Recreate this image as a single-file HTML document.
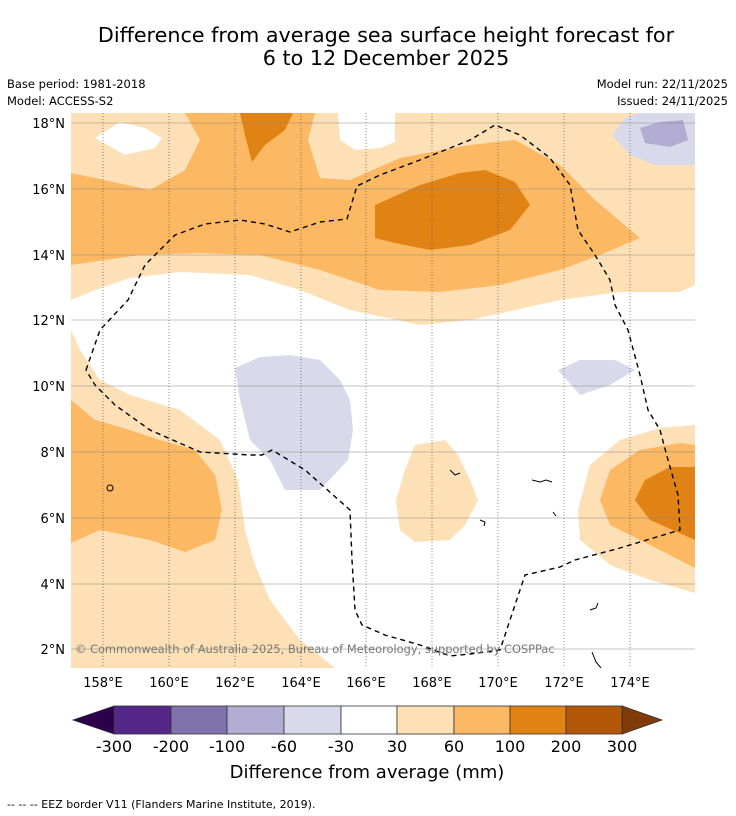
<!DOCTYPE html>
<html><head><meta charset="utf-8"><style>
body{margin:0;background:#fff;width:736px;height:816px;overflow:hidden;font-family:"DejaVu Sans","Liberation Sans",sans-serif}
svg{position:absolute;left:0;top:0}
</style></head><body>
<svg width="736" height="816" viewBox="0 0 736 816">
<text x="386" y="42" font-size="20.7" text-anchor="middle">Difference from average sea surface height forecast for</text>
<text x="386" y="65" font-size="20.7" text-anchor="middle">6 to 12 December 2025</text>
<text x="7" y="88" font-size="11.5">Base period: 1981-2018</text>
<text x="7" y="105" font-size="11.5">Model: ACCESS-S2</text>
<text x="728" y="88" font-size="11.5" text-anchor="end">Model run: 22/11/2025</text>
<text x="728" y="105" font-size="11.5" text-anchor="end">Issued: 24/11/2025</text>
<defs><clipPath id="mc"><rect x="71" y="113" width="624" height="555"/></clipPath></defs>
<g clip-path="url(#mc)">
<rect x="71" y="113" width="624" height="555" fill="#fee0b6"/>
<polygon fill="#fff" points="71,300 95,290 130,278 180,272 250,275 300,290 350,310 420,325 470,320 560,300 620,292 680,292 695,285 695,425 660,428 620,440 590,465 578,510 580,540 610,565 650,580 695,593 695,668 335,668 300,640 270,600 255,565 245,530 238,480 220,440 180,410 130,395 100,380 80,350 71,330"/>
<polygon fill="#fff" points="95,138 120,122 145,128 162,138 155,148 125,155"/>
<polygon fill="#fff" points="338,113 395,113 395,142 380,148 355,150 340,140"/>
<polygon fill="#fee0b6" points="415,445 445,440 458,455 470,480 478,500 465,525 450,540 415,542 400,530 396,500 405,470"/>
<polygon fill="#fdb863" points="71,173 95,178 150,190 185,170 200,140 185,113 315,113 308,140 320,178 350,180 400,158 470,145 515,140 560,165 595,200 640,238 600,255 560,270 500,285 440,292 380,290 320,270 260,255 200,253 140,255 71,265"/>
<polygon fill="#e08214" points="240,113 293,113 285,130 265,145 252,162 245,135"/>
<polygon fill="#e08214" points="375,205 420,185 460,173 485,170 515,182 530,205 510,230 470,245 430,250 395,243 375,238"/>
<polygon fill="#fdb863" points="71,400 95,420 120,427 160,440 195,450 215,475 222,510 215,540 185,552 150,540 100,530 71,543"/>
<polygon fill="#fdb863" points="695,445 680,443 640,450 610,470 600,500 610,525 650,545 695,568"/>
<polygon fill="#e08214" points="695,467 670,467 645,480 635,500 650,520 695,540"/>
<polygon fill="#d8daeb" points="235,368 260,357 290,355 320,360 340,380 350,400 353,430 348,460 320,490 285,490 270,460 250,440 240,400"/>
<polygon fill="#d8daeb" points="558,370 580,360 615,360 635,370 610,385 580,395"/>
<polygon fill="#d8daeb" points="612,135 625,118 640,113 695,113 695,165 655,165 630,155"/>
<polygon fill="#b2abd2" points="640,128 660,122 683,120 688,140 670,147 645,143"/>
<g stroke="#888" stroke-width="0.6">
<line x1="71" x2="695" y1="123" y2="123"/><line x1="71" x2="695" y1="189" y2="189"/><line x1="71" x2="695" y1="255" y2="255"/><line x1="71" x2="695" y1="320" y2="320"/><line x1="71" x2="695" y1="386" y2="386"/><line x1="71" x2="695" y1="452" y2="452"/><line x1="71" x2="695" y1="518" y2="518"/><line x1="71" x2="695" y1="584" y2="584"/><line x1="71" x2="695" y1="649" y2="649"/>
<g stroke-dasharray="1,2" stroke="#444"><line x1="103" x2="103" y1="113" y2="668"/><line x1="169" x2="169" y1="113" y2="668"/><line x1="235" x2="235" y1="113" y2="668"/><line x1="301" x2="301" y1="113" y2="668"/><line x1="366" x2="366" y1="113" y2="668"/><line x1="432" x2="432" y1="113" y2="668"/><line x1="498" x2="498" y1="113" y2="668"/><line x1="564" x2="564" y1="113" y2="668"/><line x1="630" x2="630" y1="113" y2="668"/></g>
</g>
<polyline fill="none" stroke="#000" stroke-width="1.4" stroke-dasharray="5,4" points="86,370 100,330 128,300 145,265 175,235 205,224 240,220 265,224 290,232 320,222 347,219 357,186 380,175 420,160 470,140 495,125 520,135 550,158 570,185 578,230 595,255 610,280 615,305 628,330 640,375 648,410 660,430 668,460 678,495 680,530 620,548 575,560 560,567 525,575 510,620 500,650 470,654 450,656 420,645 385,635 362,625 355,610 352,560 350,510 305,470 272,450 262,455 250,455 200,452 150,430 115,405 95,385 86,370"/>
<g fill="none" stroke="#000" stroke-width="1">
<ellipse cx="110" cy="488" rx="3" ry="3"/><path d="M532 480 l8 2 l6 -2 l6 2"/><path d="M450 470 l5 5 l5 -2"/><path d="M590 610 l6 -2 l2 -5"/><path d="M592 652 l4 10 l5 6"/><path d="M553 512 l3 4"/><path d="M480 520 l5 2 l-1 4"/>
</g>
<text x="75" y="653" font-size="11.4" fill="#777">© Commonwealth of Australia 2025, Bureau of Meteorology, supported by COSPPac</text>
</g>
<g font-size="13" text-anchor="end">
<text x="65" y="128">18°N</text><text x="65" y="194">16°N</text><text x="65" y="260">14°N</text><text x="65" y="325">12°N</text><text x="65" y="391">10°N</text><text x="65" y="457">8°N</text><text x="65" y="523">6°N</text><text x="65" y="589">4°N</text><text x="65" y="654">2°N</text>
</g>
<g font-size="13" text-anchor="middle">
<text x="103" y="687">158°E</text><text x="169" y="687">160°E</text><text x="235" y="687">162°E</text><text x="301" y="687">164°E</text><text x="366" y="687">166°E</text><text x="432" y="687">168°E</text><text x="498" y="687">170°E</text><text x="564" y="687">172°E</text><text x="630" y="687">174°E</text>
</g>
<g stroke="#333" stroke-width="0.8">
<polygon points="114,706 114,734 73,720" fill="#2d004b"/>
<polygon points="622,706 622,734 662,720" fill="#7f3b08"/>
<rect x="114" y="706" width="57" height="28" fill="#542788"/>
<rect x="171" y="706" width="56" height="28" fill="#8073ac"/>
<rect x="227" y="706" width="57" height="28" fill="#b2abd2"/>
<rect x="284" y="706" width="57" height="28" fill="#d8daeb"/>
<rect x="341" y="706" width="56" height="28" fill="#ffffff"/>
<rect x="397" y="706" width="57" height="28" fill="#fee0b6"/>
<rect x="454" y="706" width="56" height="28" fill="#fdb863"/>
<rect x="510" y="706" width="56" height="28" fill="#e08214"/>
<rect x="566" y="706" width="56" height="28" fill="#b35806"/>
</g>
<g font-size="16" text-anchor="middle">
<text x="114" y="752">-300</text><text x="171" y="752">-200</text><text x="227" y="752">-100</text><text x="284" y="752">-60</text><text x="341" y="752">-30</text><text x="397" y="752">30</text><text x="454" y="752">60</text><text x="510" y="752">100</text><text x="566" y="752">200</text><text x="622" y="752">300</text>
</g>
<text x="367" y="778" font-size="18" text-anchor="middle">Difference from average (mm)</text>
<text x="7" y="808" font-size="11">--  --  -- EEZ border V11 (Flanders Marine Institute, 2019).</text>
</svg>
</body></html>
